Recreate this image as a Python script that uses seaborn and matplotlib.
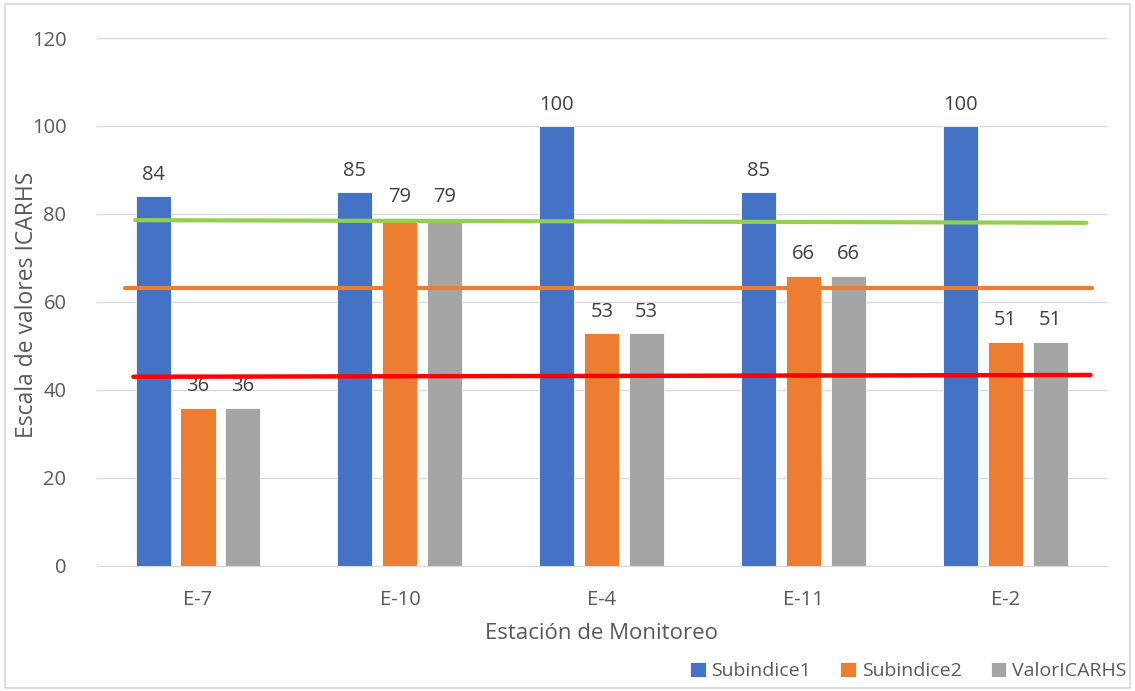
import pandas as pd
import matplotlib.pyplot as plt
import seaborn as sns

# --------------------------------------------------
# Data
# --------------------------------------------------
estaciones = ['E-7', 'E-10', 'E-4', 'E-11', 'E-2']
subindice1 = [84, 85, 100, 85, 100]
subindice2 = [36, 79, 53, 66, 51]
valor_icarhs = [36, 79, 53, 66, 51]
series = ['Subindice1', 'Subindice2', 'ValorICARHS']

# reference lines (value at left end, value at right end)
linea_verde = [78.6, 78.0]
linea_naranja = [63.1, 63.1]
linea_roja = [43.0, 43.4]

df = pd.DataFrame({'estacion': estaciones * 3,
                   'valor': subindice1 + subindice2 + valor_icarhs,
                   'serie': [s for s in series for _ in estaciones]})

# --------------------------------------------------
# Plot
# --------------------------------------------------
sns.set_style('white')
plt.rcParams['font.family'] = ['Open Sans', 'DejaVu Sans']
text_color = '#595959'

fig = plt.figure(figsize=(11.35, 6.91), dpi=100)
ax = fig.add_axes([0.0855, 0.181, 0.8895, 0.764])

sns.barplot(data=df, x='estacion', y='valor', hue='serie',
            palette=['#4472C4', '#ED7D31', '#A5A5A5'], saturation=1,
            width=0.668, gap=0.22, ax=ax, zorder=2,
            edgecolor='white', linewidth=0.6)

for container in ax.containers:
    ax.bar_label(container, fmt='%d', padding=8, fontsize=14.5, color='#404040')

ax.plot([-0.31, 4.40], linea_verde, color='#92D050', linewidth=3, zorder=3)
ax.plot([-0.36, 4.43], linea_naranja, color='#ED7D31', linewidth=3, zorder=3)
ax.plot([-0.32, 4.42], linea_roja, color='#FF0000', linewidth=3.2, zorder=3)

ax.set_xlim(-0.5, 4.5)
ax.set_ylim(0, 120)
ax.set_yticks(range(0, 121, 20))
ax.yaxis.grid(True, color='#D9D9D9', linewidth=1)
ax.set_axisbelow(True)
for side in ['top', 'right', 'left']:
    ax.spines[side].set_visible(False)
ax.spines['bottom'].set_color('#D9D9D9')
ax.tick_params(axis='both', length=0, labelsize=14.5, colors=text_color)
ax.tick_params(axis='y', pad=22)
ax.tick_params(axis='x', pad=17)

ax.set_xlabel('Estación de Monitoreo', fontsize=16, color=text_color, labelpad=10)
ax.set_ylabel('Escala de valores ICARHS', fontsize=16.5, color=text_color, va='center')
ax.yaxis.set_label_coords(-0.069, 0.494)

ax.legend(loc='lower right', bbox_to_anchor=(1.037, -0.25), ncol=3, frameon=False,
          fontsize=14, labelcolor=text_color, handlelength=0.8, handleheight=0.8,
          handletextpad=0.3, columnspacing=1.5)

fig.patches.append(plt.Rectangle((0.004, 0.004), 0.992, 0.99, transform=fig.transFigure,
                                 fill=False, edgecolor='#D9D9D9', linewidth=1.2))

fig.savefig('out.png', dpi=100)
